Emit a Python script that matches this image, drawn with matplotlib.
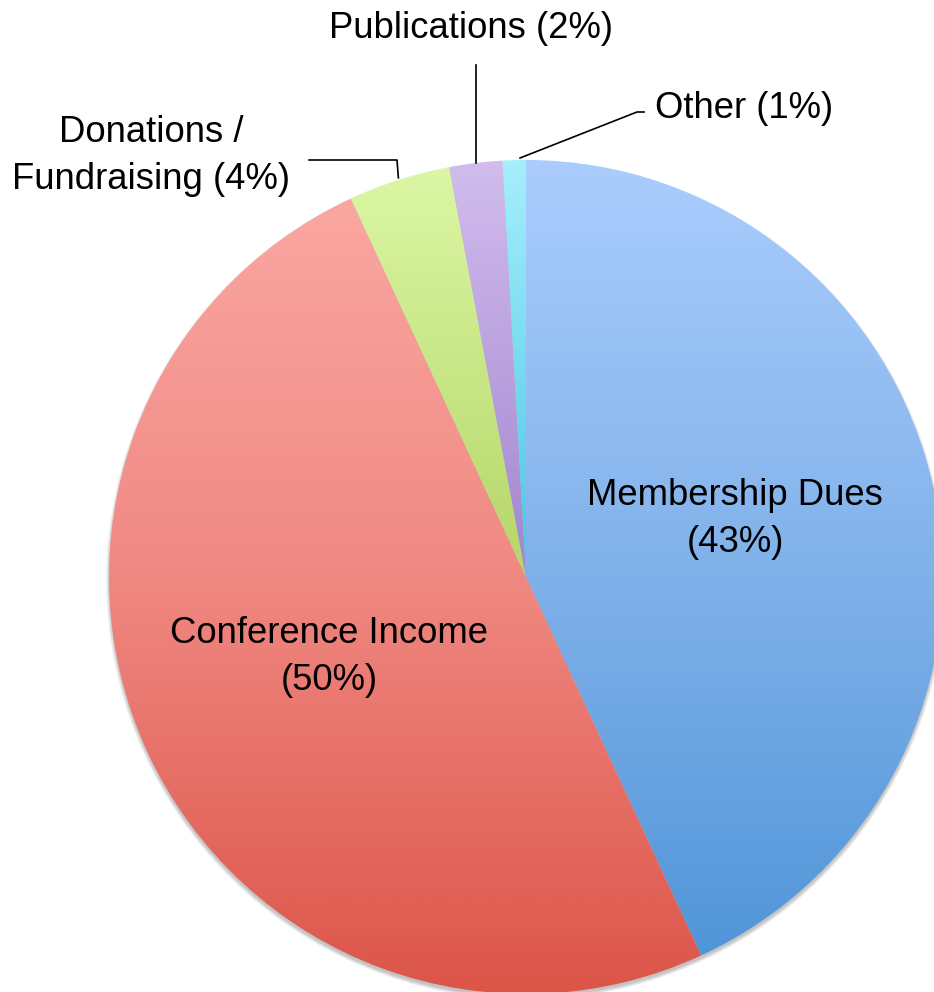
import numpy as np
import matplotlib
matplotlib.use("Agg")
import matplotlib.pyplot as plt
from matplotlib.colors import LinearSegmentedColormap
from matplotlib.patches import Circle

# Revenue shares (percent)
categories = ["Membership Dues", "Conference Income", "Donations /\nFundraising",
              "Publications", "Other"]
shares = [43.1, 50.0, 3.95, 2.05, 0.9]
labels = ["Membership Dues\n(43%)", "Conference Income\n(50%)",
          "Donations /\nFundraising (4%)", "Publications (2%)", "Other (1%)"]

# gradient stops per wedge: top, middle, bottom of the pie
gradients = [
    ["#aacdfd", "#80b1ea", "#4c93d7"],
    ["#fbaaa5", "#f08882", "#dc5549"],
    ["#dcf7a5", "#b5d668", "#8eb52b"],
    ["#d1bced", "#a285cf", "#7850b0"],
    ["#a5eefc", "#48c6e2", "#2aa0c8"],
]

W, H = 934, 992
CX, CY, R = 526, H - 577, 417
FS = 26.3
LS = 1.42
plt.rcParams['font.family'] = ['Liberation Sans', 'DejaVu Sans']


def px(x, y):
    # picture pixel coords -> data coords
    return x, H - y


def edge_at(wedge, t=0.5, frac=1.0):
    ang = np.deg2rad(wedge.theta1 + t * (wedge.theta2 - wedge.theta1))
    return CX + frac * R * np.cos(ang), CY + frac * R * np.sin(ang)


fig = plt.figure(figsize=(W / 100, H / 100), dpi=100)
ax = fig.add_axes([0, 0, 1, 1])

# soft shadow below the pie
for i in range(8):
    ax.add_patch(Circle((CX, CY - 3), R + 3 - i * 0.5, color="black",
                        alpha=0.03, lw=0, zorder=0))

wedges, _ = ax.pie(shares, startangle=90, counterclock=False,
                   center=(CX, CY), radius=R)

for w, stops in zip(wedges, gradients):
    w.set_facecolor("none")
    w.set_edgecolor("none")
    cmap = LinearSegmentedColormap.from_list("g", stops)
    grad = np.linspace(0, 1, 256).reshape(-1, 1)
    im = ax.imshow(grad, cmap=cmap, aspect="auto", origin="upper",
                   extent=(CX - R, CX + R, CY - R, CY + R), zorder=2,
                   interpolation="bilinear")
    im.set_clip_path(w)

# labels inside the big wedges
ax.text(*px(735, 519), labels[0], ha="center", va="center", fontsize=FS,
        linespacing=LS, zorder=5)
ax.text(*px(329, 657), labels[1], ha="center", va="center", fontsize=FS,
        linespacing=LS, zorder=5)

# outside labels with leader lines
ax.text(*px(151, 156), labels[2], ha="center", va="center", fontsize=FS,
        linespacing=LS, zorder=5)
ax.text(*px(471, 28), labels[3], ha="center", va="center", fontsize=FS, zorder=5)
ax.text(*px(655, 108), labels[4], ha="left", va="center", fontsize=FS, zorder=5)

lw = 1.2
a = edge_at(wedges[2], 0.5, 1.005)
ax.plot([px(309, 160)[0], px(397, 160)[0], a[0]],
        [px(309, 160)[1], px(397, 160)[1], a[1]], color="black", lw=lw, zorder=4)
a = edge_at(wedges[3], 0.5, 1.0)
ax.plot([a[0], a[0]], [a[1], px(0, 65)[1]], color="black", lw=lw, zorder=4)
a = edge_at(wedges[4], 0.25, 1.005)
ax.plot([a[0], px(637, 112)[0], px(644, 112)[0]],
        [a[1], px(637, 112)[1], px(644, 112)[1]], color="black", lw=lw, zorder=4)

ax.set_aspect("equal")
ax.set_xlim(0, W)
ax.set_ylim(0, H)
ax.axis("off")

fig.savefig("out.png", dpi=100, facecolor="white")
